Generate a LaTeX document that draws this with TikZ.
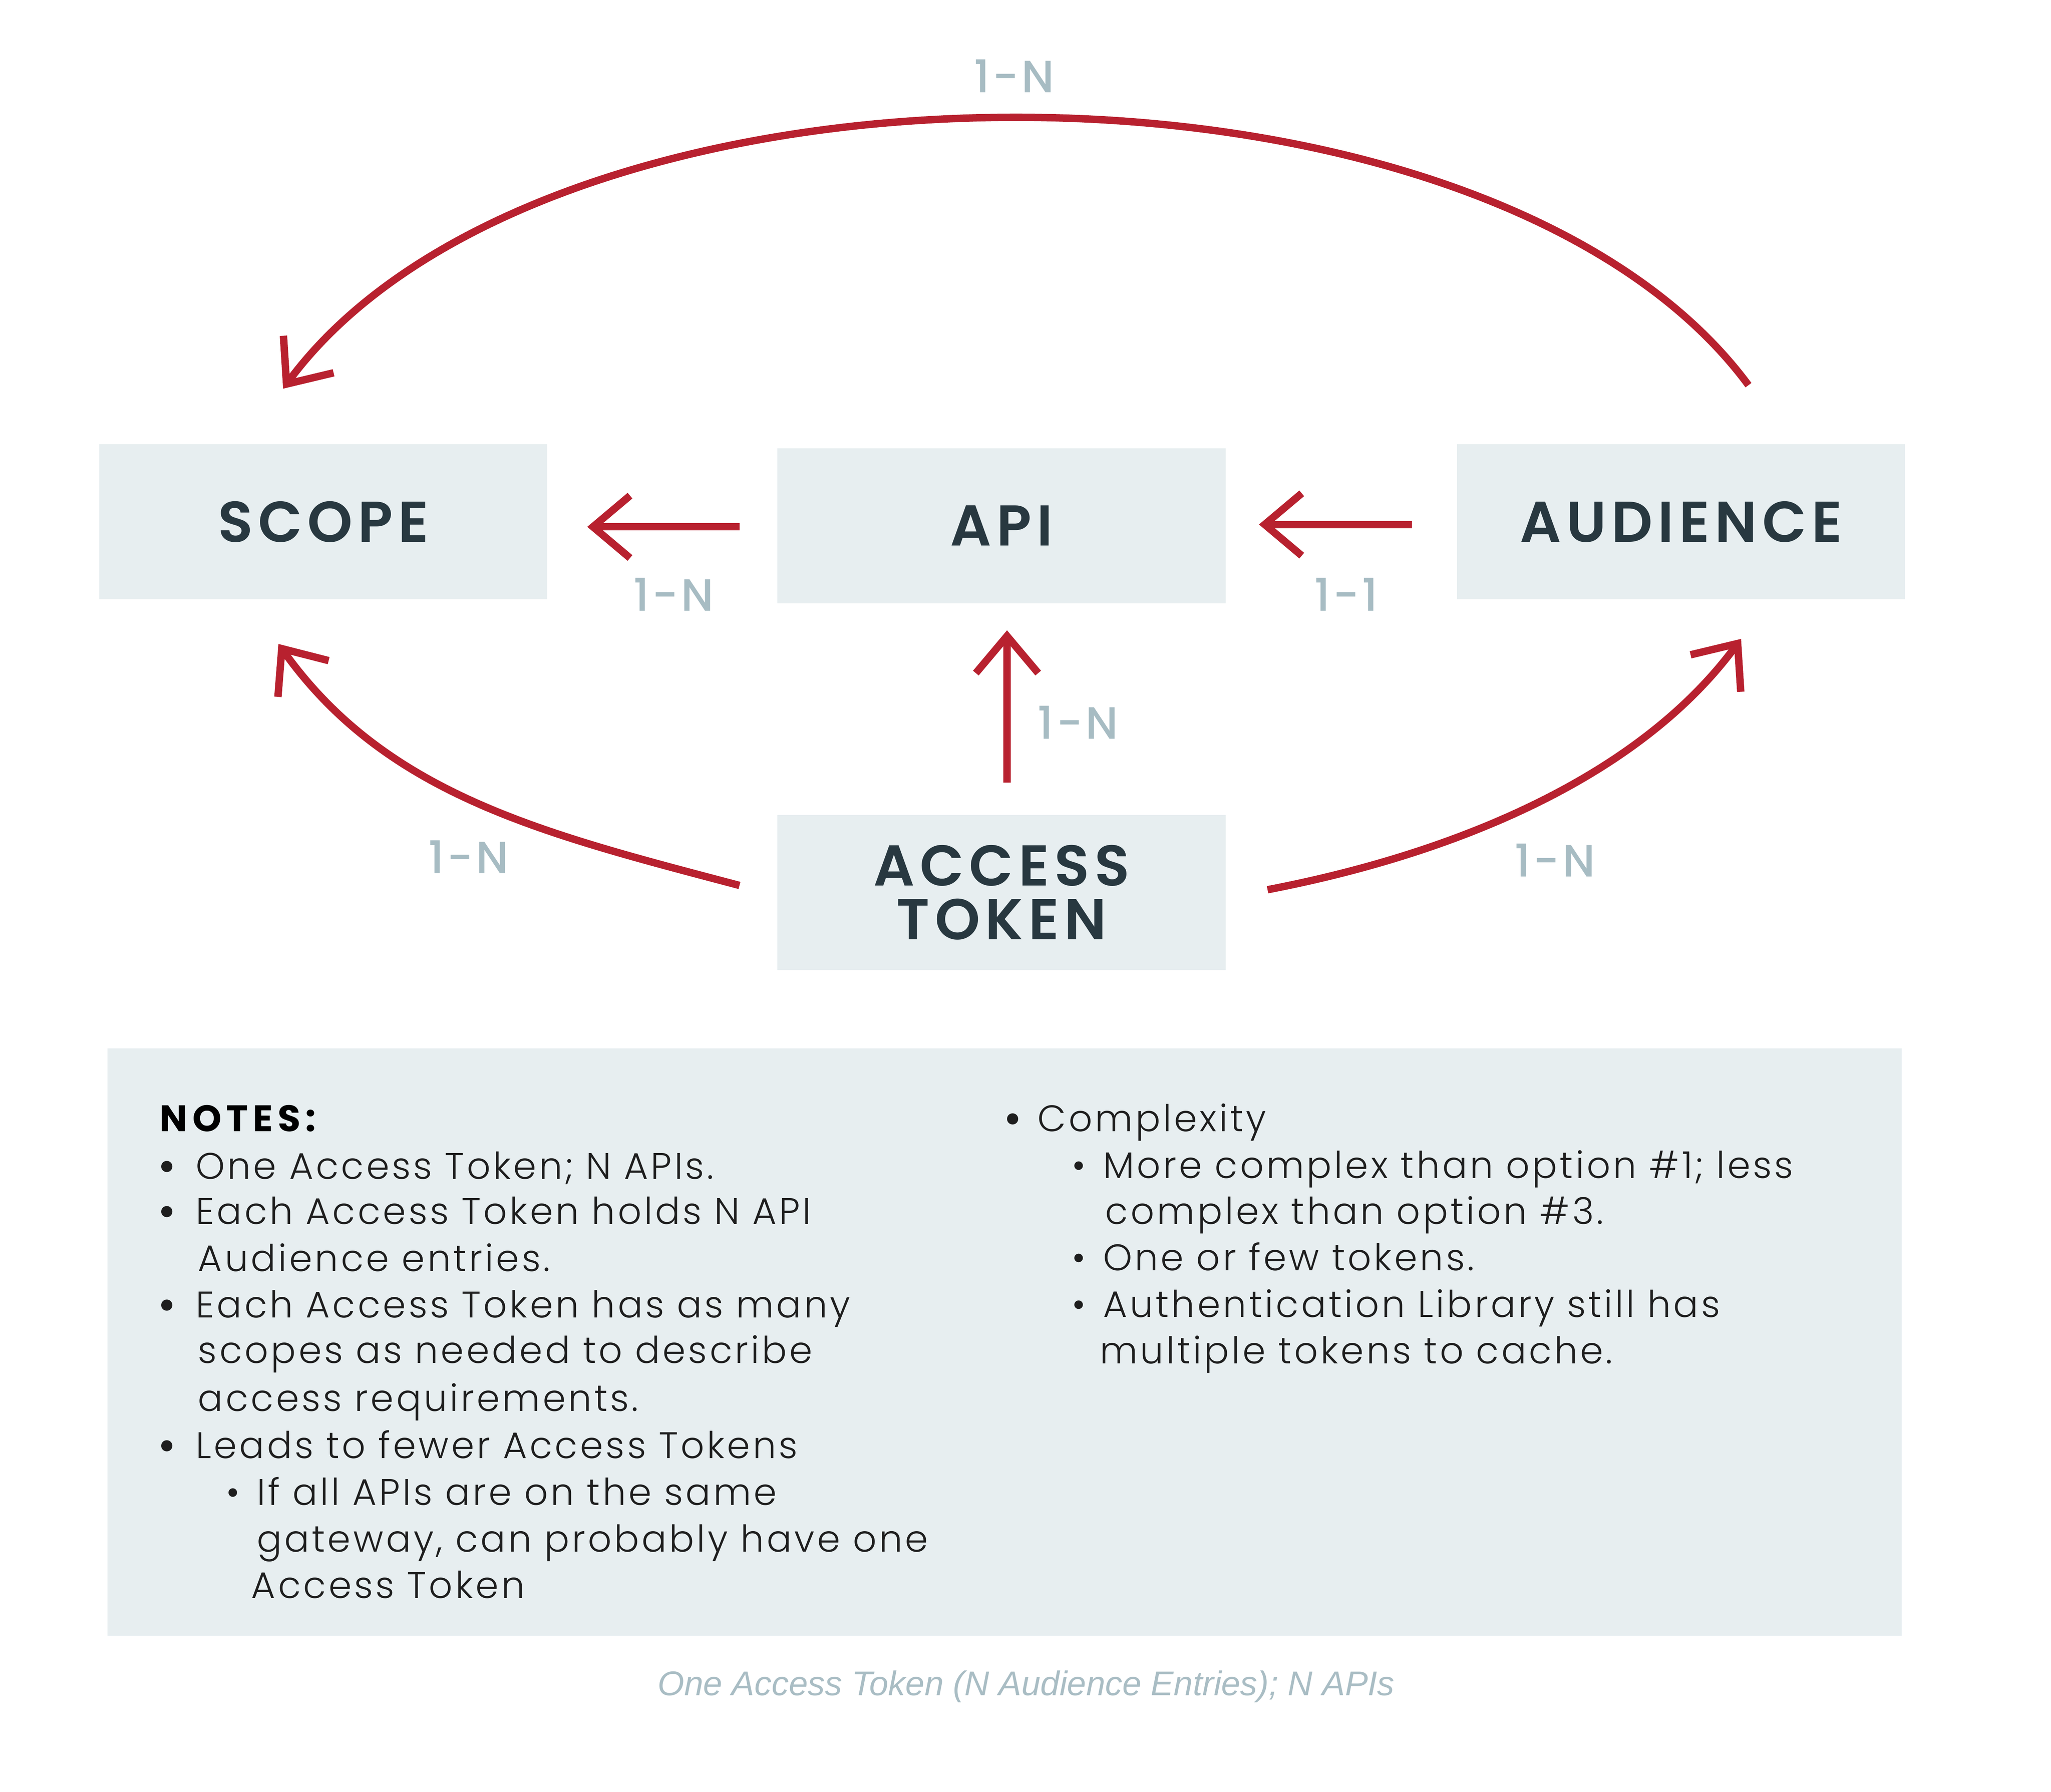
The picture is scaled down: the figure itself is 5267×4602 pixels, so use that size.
\documentclass[tikz,border=0pt]{standalone}
\usepackage{fontspec}
\setmainfont{Poppins}[UprightFont={* Light},BoldFont={* Bold},LetterSpace=7]
\newfontfamily\notesfont{Poppins}[UprightFont={* Bold},LetterSpace=13]
\newfontfamily\bulfont{Poppins}[UprightFont={* Bold}]
\newfontfamily\titlefont{Poppins}[UprightFont={* SemiBold},LetterSpace=9]
\newfontfamily\labelfont{Poppins}[UprightFont={* Medium},LetterSpace=6]
\newfontfamily\capfont{Liberation Sans}
\usetikzlibrary{arrows.meta,calc}
\definecolor{boxfill}{HTML}{E7EEF0}
\definecolor{titletxt}{HTML}{283840}
\definecolor{arrred}{HTML}{B8212F}
\definecolor{lblgray}{HTML}{A7BCC3}
\definecolor{notetxt}{HTML}{1E1E1E}
\definecolor{captxt}{HTML}{A9BDC4}
\tikzset{
  box/.style={fill=boxfill, minimum width=11.5cm, minimum height=3.98cm, inner sep=0pt,
    text=titletxt, align=center, font=\titlefont\fontsize{42}{39.5}\selectfont},
  arr/.style={draw=arrred, line width=5.4pt, -{Straight Barb[length=0.95cm,width=1.6cm]}},
  lbl/.style={anchor=base, inner sep=0pt, text=lblgray, font=\labelfont\fontsize{33}{36}\selectfont},
  note/.style={anchor=base west, inner sep=0pt, text=notetxt, font=\fontsize{27}{34}\selectfont},
  bul/.style={anchor=base, inner sep=0pt, text=notetxt, font=\bulfont\fontsize{27}{34}\selectfont},
  subbul/.style={anchor=base, inner sep=0pt, text=notetxt, font=\fontsize{27}{34}\selectfont},
  captext/.style={anchor=base, inner sep=0pt, text=captxt, font=\capfont\itshape\fontsize{25}{28}\selectfont}
}
\begin{document}
\begin{tikzpicture}[x=0.01cm,y=-0.01cm]
\path[use as bounding box, fill=white] (0,0) rectangle (5267,4602);
% boxes
\node[box] (scope) at (830,1340) {SCOPE};
\node[box] (api) at (2572,1350) {API};
\node[box] (aud) at (4317,1340) {AUDIENCE};
\node[box] (token) at (2572,2292) {ACCESS\\TOKEN};
% arrows
\draw[arr] ($(api.west)+(-97,3)$) -- ($(scope.east)+(102,13)$);
\draw[arr] ($(aud.west)+(-115,7)$) -- ($(api.east)+(85,-3)$);
\draw[arr] ($(token.north)+(14,-82)$) -- ($(api.south)+(14,69)$);
\draw[arr] ($(aud.north)+(173,-151)$) .. controls +(-680,-920) and +(680,-920) .. ($(scope.north)+(-103,-142)$);
\draw[arr] ($(token.west)+(-97,-18)$) .. controls +(-503,-133) and +(278,389) .. ($(scope.south)+(-115,114)$);
\draw[arr] ($(token.east)+(107,-7)$) .. controls +(452,-87) and +(-273,370) .. ($(aud.south)+(154,101)$);
% labels
\node[lbl] (l1) at (2604,238) {1-N};
\node[lbl] (l2) at (1730,1569) {1-N};
\node[lbl] (l3) at (3457,1569) {1-1};
\node[lbl] (l4) at (2768,1898) {1-N};
\node[lbl] (l5) at (1203,2243) {1-N};
\node[lbl] (l6) at (3993,2252) {1-N};
% notes
\node[fill=boxfill, anchor=north west, minimum width=46.05cm, minimum height=15.07cm, inner sep=0pt] (notes) at (275,2692) {};
\node[note, font=\notesfont\fontsize{27}{34}\selectfont, text=black] (nh) at (410,2906) {NOTES:};
\node[bul] (b1) at (429,3028) {•};
\node[note] (t1) at (502,3028) {One Access Token; N APIs.};
\node[bul] (b2) at (429,3144) {•};
\node[note] (t2) at (502,3144) {Each Access Token holds N API};
\node[note] (t2b) at (508,3265) {Audience entries.};
\node[bul] (b3) at (429,3384) {•};
\node[note] (t3) at (502,3384) {Each Access Token has as many};
\node[note] (t3b) at (508,3501) {scopes as needed to describe};
\node[note] (t3c) at (508,3624) {access requirements.};
\node[bul] (b4) at (429,3745) {•};
\node[note] (t4) at (502,3745) {Leads to fewer Access Tokens};
\node[subbul] (b5) at (598,3865) {•};
\node[note] (t5) at (659,3865) {If all APIs are on the same};
\node[note] (t5b) at (659,3985) {gateway, can probably have one};
\node[note] (t5c) at (645,4104) {Access Token};
\node[bul] (b6) at (2601,2906) {•};
\node[note] (t6) at (2664,2906) {Complexity};
\node[subbul] (b7) at (2770,3026) {•};
\node[note] (t7) at (2832,3026) {More complex than option \#1; less};
\node[note] (t7b) at (2838,3144) {complex than option \#3.};
\node[subbul] (b8) at (2770,3263) {•};
\node[note] (t8) at (2832,3263) {One or few tokens.};
\node[subbul] (b9) at (2770,3383) {•};
\node[note] (t9) at (2832,3383) {Authentication Library still has};
\node[note] (t9b) at (2824,3502) {multiple tokens to cache.};
% caption
\node[captext] (caption) at (2635,4354) {One Access Token (N Audience Entries); N APIs};
\end{tikzpicture}
\end{document}
